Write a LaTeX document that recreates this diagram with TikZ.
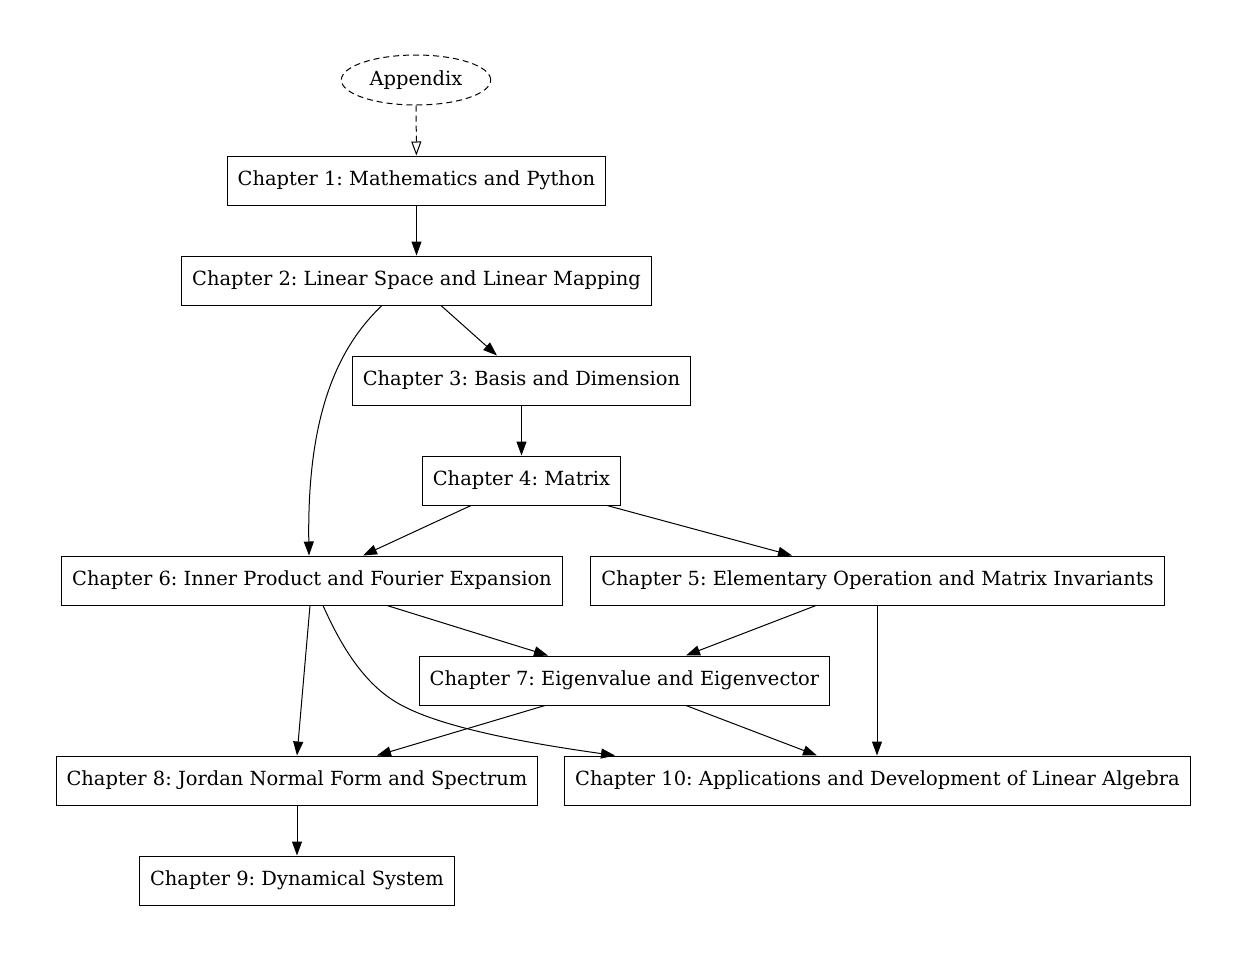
\documentclass[tikz,border=0pt]{standalone}
\usepackage{fontspec}
\setmainfont{DejaVu Serif}
\frenchspacing
\usetikzlibrary{arrows.meta,shapes.geometric}

\begin{document}
\begin{tikzpicture}[x=0.75pt,y=-0.75pt,
    chap/.style={draw,line width=0.75pt,minimum height=36.75pt,inner xsep=7.8pt,font=\fontsize{14.6}{17}\selectfont},
    edge/.style={line width=0.75pt,-{Triangle[length=10.5pt,width=7.5pt]}}]
    \useasboundingbox (0,0) rectangle (1247,961);

    \node [ellipse,draw,dash pattern=on 4.5pt off 3pt,line width=0.75pt,minimum width=112pt,minimum height=37.5pt,inner sep=0pt,font=\fontsize{14.6}{17}\selectfont] (app) at (416,80) {Appendix};
    \node [chap] (ch1)  at (416.5,180.5) {Chapter 1: Mathematics and Python};
    \node [chap] (ch2)  at (416.5,280.5) {Chapter 2: Linear Space and Linear Mapping};
    \node [chap] (ch3)  at (521.5,380.5) {Chapter 3: Basis and Dimension};
    \node [chap] (ch4)  at (521.5,480.5) {Chapter 4: Matrix};
    \node [chap] (ch6)  at (312,580.5)   {Chapter 6: Inner Product and Fourier Expansion};
    \node [chap] (ch5)  at (877.5,580.5) {Chapter 5: Elementary Operation and Matrix Invariants};
    \node [chap] (ch7)  at (624.5,680.5) {Chapter 7: Eigenvalue and Eigenvector};
    \node [chap] (ch8)  at (297,780.5)   {Chapter 8: Jordan Normal Form and Spectrum};
    \node [chap] (ch10) at (877.5,780.5) {Chapter 10: Applications and Development of Linear Algebra};
    \node [chap] (ch9)  at (297,880.5)   {Chapter 9: Dynamical System};

    \draw [line width=0.75pt,dash pattern=on 4.5pt off 3pt,-{Triangle[open,length=10.5pt,width=7.5pt]}] (app) -- (ch1);
    \draw [edge] (ch1) -- (ch2);
    \draw [edge] (ch2.south -| 441,0) -- (ch3.north -| 497,0);
    \draw [edge] (ch2.south -| 382,0) .. controls (335,350) and (307,420) .. (ch6.north -| 309,0);
    \draw [edge] (ch3) -- (ch4);
    \draw [edge] (ch4.south -| 471,0) -- (ch6.north -| 363,0);
    \draw [edge] (ch4.south -| 607,0) -- (ch5.north -| 792,0);
    \draw [edge] (ch6.south -| 387,0) -- (ch7.north -| 548,0);
    \draw [edge] (ch6.south -| 310,0) -- (ch8.north -| 297,0);
    \draw [edge] (ch6.south -| 323,0) .. controls (345,655) and (370,690) .. (405,707) .. controls (450,730) and (540,745) .. (ch10.north -| 615,0);
    \draw [edge] (ch5.south -| 816,0) -- (ch7.north -| 686,0);
    \draw [edge] (ch5.south -| 877,0) -- (ch10.north -| 877,0);
    \draw [edge] (ch7.south -| 545,0) -- (ch8.north -| 377,0);
    \draw [edge] (ch7.south -| 686,0) -- (ch10.north -| 817,0);
    \draw [edge] (ch8) -- (ch9);
\end{tikzpicture}
\end{document}
